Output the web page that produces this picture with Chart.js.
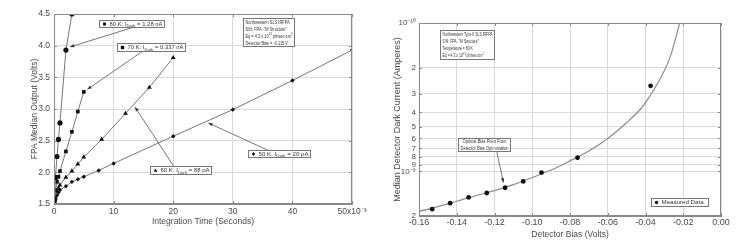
<!DOCTYPE html>
<html>
<head>
<meta charset="utf-8">
<script src="https://cdn.jsdelivr.net/npm/chart.js@4.4.0/dist/chart.umd.min.js"></script>
<style>
  html, body { margin: 0; padding: 0; background: #fff; }
  .wrap { position: absolute; top: 0; width: 375px; height: 241px; }
  #left { left: 0; }
  #right { left: 375px; }
</style>
</head>
<body>
<div class="wrap" id="left"><canvas id="timeChart"></canvas></div>
<div class="wrap" id="right"><canvas id="biasChart"></canvas></div>
<script>
// left panel: FPA output vs integration time (ms)
const timeTicks = [0, 10, 20, 30, 40, 50];
const voltTicks = [1.5, 2.0, 2.5, 3.0, 3.5, 4.0, 4.5];

const t80 = [0.1, 0.25, 0.5, 0.75, 1, 2, 3];
const v80 = [1.58, 1.92, 2.25, 2.52, 2.78, 3.93, 4.50];

const t70 = [0.1, 0.25, 0.5, 0.75, 1, 2, 3, 4, 5];
const v70 = [1.56, 1.72, 1.85, 1.93, 2.02, 2.33, 2.64, 2.96, 3.27];

const t60 = [0.1, 0.25, 0.5, 0.75, 1, 2, 3, 4, 5, 8, 12, 16, 20];
const v60 = [1.54, 1.63, 1.70, 1.75, 1.80, 1.92, 2.02, 2.13, 2.24, 2.52, 2.93, 3.34, 3.81];

const t50 = [0.1, 0.25, 0.5, 0.75, 1, 2, 3, 4, 5, 7.5, 10, 20, 30, 40, 50];
const v50 = [1.53, 1.58, 1.64, 1.68, 1.72, 1.78, 1.85, 1.89, 1.93, 2.03, 2.14, 2.57, 2.99, 3.45, 3.93];

// right panel: dark current vs detector bias
const biasTicks = [-0.16, -0.14, -0.12, -0.10, -0.08, -0.06, -0.04, -0.02, 0];
const currentTicks = [1e-10, 2e-10, 3e-10, 4e-10, 5e-10, 6e-10, 7e-10, 8e-10, 9e-10, 1e-9, 2e-9];

const biasMeasured = [-0.153, -0.1435, -0.1337, -0.1241, -0.1144, -0.1048, -0.0951, -0.076, -0.0373];
const currentMeasured = [1.80e-9, 1.64e-9, 1.50e-9, 1.40e-9, 1.29e-9, 1.17e-9, 1.02e-9, 8.1e-10, 2.65e-10];

const biasFit = [-0.16, -0.15, -0.14, -0.13, -0.12, -0.11, -0.10, -0.09, -0.08, -0.07, -0.06, -0.05, -0.0426, -0.0373, -0.032, -0.0267, -0.0219];
const currentFit = [1.86e-9, 1.73e-9, 1.59e-9, 1.46e-9, 1.35e-9, 1.23e-9, 1.10e-9, 0.98e-9, 0.85e-9, 0.73e-9, 0.60e-9, 0.47e-9, 0.38e-9, 0.305e-9, 0.235e-9, 0.166e-9, 1.0e-10];

const family = "'Liberation Sans', Arial, sans-serif";
const gridColor = "#dadada";
const frameColor = "#8a8a8a";
const textColor = "#4a4a4a";
const markColor = "#111";
const lineColor = "#777";

Chart.defaults.font.family = family;
Chart.defaults.color = textColor;

const pts = (xs, ys) => xs.map((x, i) => ({ x, y: ys[i] }));

function series(label, xs, ys, style, r) {
  return {
    label,
    data: pts(xs, ys),
    showLine: true,
    borderColor: lineColor,
    borderWidth: 1,
    pointStyle: style,
    pointRadius: r,
    pointBackgroundColor: markColor,
    pointBorderColor: markColor,
    pointBorderWidth: 0
  };
}

// annotations, given in data units
const timeNotes = [
  { box: [7.6, 4.40, 18.5, 4.29], lines: ["80 K: I_{Dark} = 1.28 nA"], marker: "circle", arrow: [13.3, 4.29, 2.7, 3.98] },
  { box: [10.6, 4.04, 22.0, 3.92], lines: ["70 K: I_{Dark} = 0.337 nA"], marker: "rect", arrow: [15.0, 3.92, 5.6, 3.31] },
  { box: [16.1, 2.10, 26.3, 1.97], lines: ["60 K: I_{Dark} = 88 pA"], marker: "triangle", arrow: [20.05, 2.10, 13.6, 3.03] },
  { box: [32.55, 2.35, 43.0, 2.24], lines: ["50 K: I_{Dark} = 20 pA"], marker: "diamond", arrow: [35.85, 2.35, 25.9, 2.78] },
  { box: [31.65, 4.43, 40.3, 3.99], lines: ["Northwestern SLS IRFPA", "S/N: FPA -\"M Structure\"", "Eq = 4.3 x 10^{13} ph/sec-cm^{2}", "Detector Bias = -0.115 V"] }
];

const biasNotes = [
  { box: [-0.149, 1.12e-10, -0.1203, 1.74e-10], lines: ["Northwestern Type II SLS IRFPA", "S/N: FPA -\"M Structure\"", "Temperature = 80 K", "Eq = 4.3 x 10^{13} ph/sec-cm^{2}"] },
  { box: [-0.1393, 5.95e-10, -0.1117, 7.33e-10], lines: ["Optimal Bias Point From", "Detector Bias Optimization"], center: true, arrow: [-0.1188, 7.33e-10, -0.1153, 1.19e-9] },
  { box: [-0.0373, 1.51e-9, -0.0071, 1.70e-9], lines: ["Measured Data"], marker: "circle" }
];

function parseRich(str) {
  return str.split(/([_^]\{[^}]*\})/).filter(Boolean).map(p => {
    if (p[1] === "{" && p[0] === "_") return { t: p.slice(2, -1), d: 1 };
    if (p[1] === "{" && p[0] === "^") return { t: p.slice(2, -1), d: -1 };
    return { t: p, d: 0 };
  });
}

function richWidth(ctx, segs, size) {
  let w = 0;
  segs.forEach(s => {
    ctx.font = (s.d ? size * 0.72 : size) + "px " + family;
    w += ctx.measureText(s.t).width;
  });
  return w;
}

function drawRich(ctx, segs, x, y, size, sx) {
  ctx.save();
  ctx.translate(x, y);
  ctx.scale(sx, 1);
  let cx = 0;
  segs.forEach(s => {
    ctx.font = (s.d ? size * 0.72 : size) + "px " + family;
    ctx.fillText(s.t, cx, s.d * size * 0.38);
    cx += ctx.measureText(s.t).width;
  });
  ctx.restore();
}

function mark(ctx, kind, x, y, r) {
  ctx.beginPath();
  if (kind === "circle") ctx.arc(x, y, r, 0, Math.PI * 2);
  else if (kind === "rect") ctx.rect(x - r, y - r, 2 * r, 2 * r);
  else if (kind === "triangle") {
    ctx.moveTo(x, y - r * 1.2);
    ctx.lineTo(x + r * 1.1, y + r * 0.8);
    ctx.lineTo(x - r * 1.1, y + r * 0.8);
    ctx.closePath();
  } else {
    ctx.moveTo(x, y - r * 1.2);
    ctx.lineTo(x + r, y);
    ctx.lineTo(x, y + r * 1.2);
    ctx.lineTo(x - r, y);
    ctx.closePath();
  }
  ctx.fill();
}

function arrow(ctx, x0, y0, x1, y1) {
  ctx.strokeStyle = "#777";
  ctx.lineWidth = 1;
  ctx.beginPath();
  ctx.moveTo(x0, y0);
  ctx.lineTo(x1, y1);
  ctx.stroke();
  const a = Math.atan2(y1 - y0, x1 - x0);
  const len = 4.5, w = 0.38;
  ctx.fillStyle = "#333";
  ctx.beginPath();
  ctx.moveTo(x1, y1);
  ctx.lineTo(x1 - len * Math.cos(a - w), y1 - len * Math.sin(a - w));
  ctx.lineTo(x1 - len * Math.cos(a + w), y1 - len * Math.sin(a + w));
  ctx.closePath();
  ctx.fill();
}

// frame, inner tick marks, boxed notes and arrows
const decorate = {
  id: "decorate",
  afterDatasetsDraw(chart, args, opts) {
    const { ctx, chartArea: a, scales: { x, y } } = chart;
    ctx.save();
    ctx.strokeStyle = frameColor;
    ctx.lineWidth = 1;
    ctx.strokeRect(a.left + 0.5, a.top + 0.5, a.right - a.left - 1, a.bottom - a.top - 1);
    ctx.beginPath();
    x.ticks.forEach(t => {
      const px = Math.round(x.getPixelForValue(t.value)) + 0.5;
      ctx.moveTo(px, a.top); ctx.lineTo(px, a.top + 3);
      ctx.moveTo(px, a.bottom); ctx.lineTo(px, a.bottom - 3);
    });
    y.ticks.forEach(t => {
      const py = Math.round(y.getPixelForValue(t.value)) + 0.5;
      ctx.moveTo(a.left, py); ctx.lineTo(a.left + 3, py);
      ctx.moveTo(a.right, py); ctx.lineTo(a.right - 3, py);
    });
    ctx.stroke();

    const size = opts.size || 5.6;
    (opts.notes || []).forEach(n => {
      if (n.arrow) {
        arrow(ctx, x.getPixelForValue(n.arrow[0]), y.getPixelForValue(n.arrow[1]),
          x.getPixelForValue(n.arrow[2]), y.getPixelForValue(n.arrow[3]));
      }
      const l = Math.round(x.getPixelForValue(n.box[0])) + 0.5;
      const t = Math.round(y.getPixelForValue(n.box[1])) + 0.5;
      const r = Math.round(x.getPixelForValue(n.box[2])) + 0.5;
      const b = Math.round(y.getPixelForValue(n.box[3])) + 0.5;
      ctx.fillStyle = "#fff";
      ctx.fillRect(l, t, r - l, b - t);
      ctx.strokeStyle = "#777";
      ctx.strokeRect(l, t, r - l, b - t);
      let tx = l + 2;
      if (n.marker) {
        ctx.fillStyle = markColor;
        mark(ctx, n.marker, l + 5, (t + b) / 2, 1.7);
        tx = l + 10;
      }
      const segsList = n.lines.map(parseRich);
      const widths = segsList.map(s => richWidth(ctx, s, size));
      const avail = r - 2 - tx;
      const sx = Math.max(0.5, Math.min(1.1, avail / Math.max(...widths)));
      const lh = (b - t) / n.lines.length;
      ctx.fillStyle = "#333";
      ctx.textBaseline = "middle";
      ctx.textAlign = "left";
      segsList.forEach((segs, i) => {
        const off = n.center ? (avail - widths[i] * sx) / 2 : 0;
        drawRich(ctx, segs, tx + off, t + lh * (i + 0.5), size, sx);
      });
    });
    ctx.restore();
  }
};

const supDigits = { "-": "\u207B", "0": "\u2070", "1": "\u00B9", "2": "\u00B2", "3": "\u00B3", "4": "\u2074", "5": "\u2075", "6": "\u2076", "7": "\u2077", "8": "\u2078", "9": "\u2079" };
const sup = n => String(n).split("").map(c => supDigits[c]).join("");

new Chart(document.getElementById("timeChart"), {
  type: "scatter",
  data: {
    datasets: [
      series("80 K", t80, v80, "circle", 2.6),
      series("70 K", t70, v70, "rect", 2.6),
      series("60 K", t60, v60, "triangle", 2.8),
      series("50 K", t50, v50, "rectRot", 2.2)
    ]
  },
  plugins: [decorate],
  options: {
    responsive: true,
    maintainAspectRatio: false,
    animation: false,
    layout: { padding: { top: 14, right: 23, bottom: 0, left: 0 } },
    plugins: {
      legend: { display: false },
      tooltip: { enabled: false },
      decorate: { notes: timeNotes, size: 5.6 }
    },
    scales: {
      x: {
        type: "linear",
        min: 0,
        max: 50,
        afterBuildTicks: s => { s.ticks = timeTicks.map(v => ({ value: v })); },
        afterFit: s => { s.height = 37; },
        grid: { color: gridColor, drawTicks: false },
        border: { color: frameColor },
        ticks: {
          padding: 3,
          font: { size: 8.5 },
          callback: v => v === 50 ? "50x10" + sup(-3) : String(v)
        },
        title: { display: true, text: "Integration Time (Seconds)", font: { size: 8.5 }, padding: { top: 0, bottom: 14.2 } }
      },
      y: {
        min: 1.5,
        max: 4.5,
        afterBuildTicks: s => { s.ticks = voltTicks.map(v => ({ value: v })); },
        afterFit: s => { s.width = 54; },
        grid: { color: gridColor, drawTicks: false },
        border: { color: frameColor },
        ticks: { padding: 4, font: { size: 8.5 }, callback: v => v.toFixed(1) },
        title: { display: true, text: "FPA Median Output (Volts)", font: { size: 8.5 }, padding: { top: 30, bottom: 0 } }
      }
    }
  }
});

new Chart(document.getElementById("biasChart"), {
  type: "scatter",
  data: {
    datasets: [
      {
        label: "Measured Data",
        data: pts(biasMeasured, currentMeasured),
        pointStyle: "circle",
        pointRadius: 2.4,
        pointBackgroundColor: markColor,
        pointBorderColor: markColor,
        pointBorderWidth: 0,
        showLine: false
      },
      {
        label: "Fit",
        data: pts(biasFit, currentFit),
        showLine: true,
        pointRadius: 0,
        borderColor: "#8c8c8c",
        borderWidth: 1.2,
        cubicInterpolationMode: "monotone"
      }
    ]
  },
  plugins: [decorate],
  options: {
    responsive: true,
    maintainAspectRatio: false,
    animation: false,
    layout: { padding: { top: 23, right: 29, bottom: 0, left: 0 } },
    plugins: {
      legend: { display: false },
      tooltip: { enabled: false },
      decorate: { notes: biasNotes, size: 5.6 }
    },
    scales: {
      x: {
        type: "linear",
        min: -0.16,
        max: 0,
        afterBuildTicks: s => { s.ticks = biasTicks.map(v => ({ value: v })); },
        afterFit: s => { s.height = 25; },
        grid: { color: gridColor, drawTicks: false },
        border: { color: frameColor },
        ticks: { padding: 1, font: { size: 9 }, callback: v => v.toFixed(2) },
        title: { display: true, text: "Detector Bias (Volts)", font: { size: 8.5 }, padding: { top: 0, bottom: 1.2 } }
      },
      y: {
        type: "logarithmic",
        reverse: true,
        min: 1e-10,
        max: 2e-9,
        afterBuildTicks: s => { s.ticks = currentTicks.map(v => ({ value: v })); },
        afterFit: s => { s.width = 44; },
        grid: { color: gridColor, drawTicks: false },
        border: { color: frameColor },
        ticks: {
          padding: 3,
          autoSkip: false,
          font: { size: 8 },
          callback: v => {
            const e = Math.floor(Math.log10(v) + 1e-9);
            const m = Math.round(v / Math.pow(10, e));
            return m === 1 ? "10" + sup(e) : String(m);
          }
        },
        title: { display: true, text: "Median Detector Dark Current (Amperes)", font: { size: 9 }, padding: { top: 17.6, bottom: 0 } }
      }
    }
  }
});
</script>
</body>
</html>
